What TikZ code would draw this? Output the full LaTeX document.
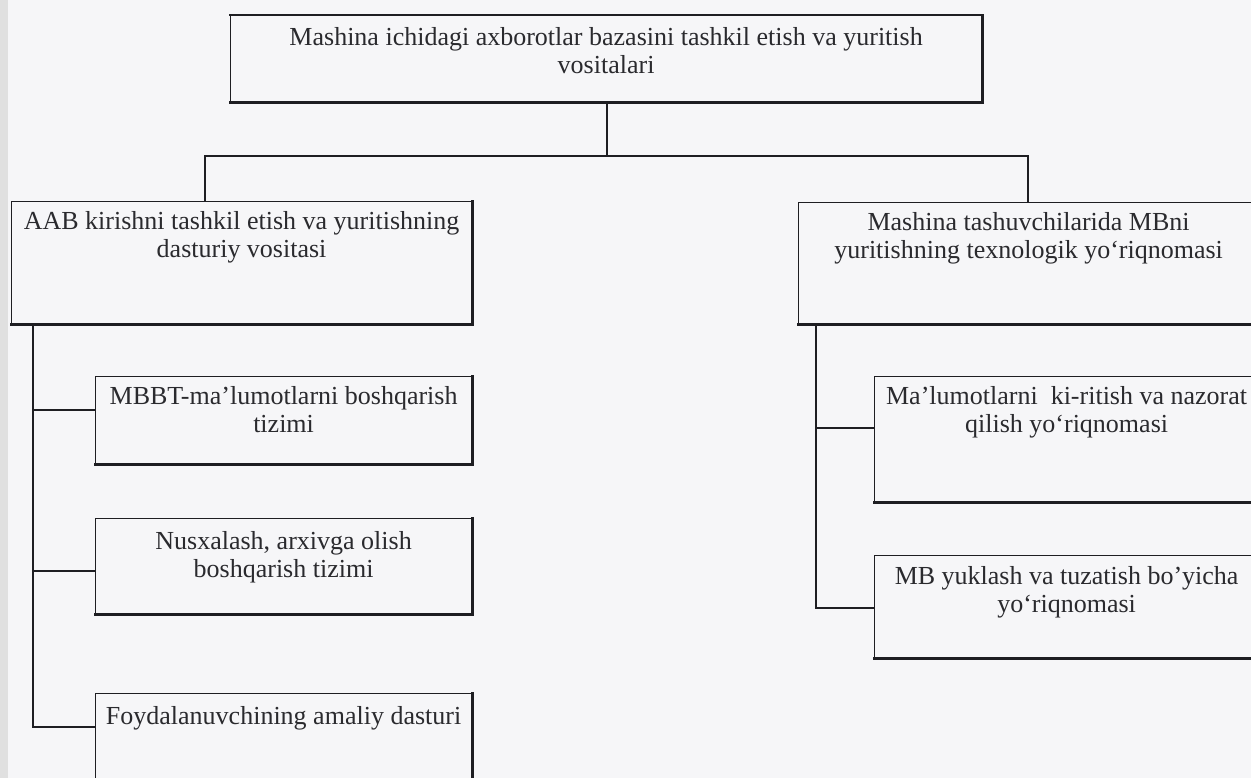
\documentclass[tikz,border=0pt]{standalone}
\usepackage{fontspec}
\setmainfont{Liberation Serif}
\definecolor{lc}{HTML}{1E1E22}
\definecolor{tc}{HTML}{2A2A2E}
\definecolor{bg}{HTML}{F6F6F8}
\begin{document}
\begin{tikzpicture}[x=1pt,y=-1pt,
  box/.style={draw=lc, line width=1.2pt, anchor=north west, inner sep=0pt},
  txt/.style={font=\fontsize{26}{28.5}\selectfont, text=tc, align=center, inner sep=0pt, anchor=north},
  conn/.style={draw=lc, line width=1.8pt},
  heavy/.style={draw=lc, line width=2.8pt, line cap=rect}]
\useasboundingbox (0,0) rectangle (1251,778);
\clip (0,0) rectangle (1251,778);
\fill[bg] (0,0) rectangle (1251,778);
\fill[black!12] (0,0) rectangle (8,778);

% boxes
\node[box, minimum width=751pt, minimum height=86pt] (top) at (230,15) {};
\node[box, minimum width=460pt, minimum height=122pt] (aab) at (11,201) {};
\node[box, minimum width=460pt, minimum height=121pt] (mt) at (798,202) {};
\node[box, minimum width=376pt, minimum height=87pt] (mbbt) at (95,376) {};
\node[box, minimum width=376pt, minimum height=95pt] (nusx) at (95,518) {};
\node[box, minimum width=376pt, minimum height=120pt] (foyd) at (95,693) {};
\node[box, minimum width=384pt, minimum height=125pt] (malum) at (874,376) {};
\node[box, minimum width=384pt, minimum height=102pt] (mby) at (874,555) {};

% heavy bottom / right edges
\draw[heavy] (top.north west) -- (top.north east);
\foreach \n in {top,aab,mt,mbbt,nusx,foyd,malum,mby}
  \draw[heavy] (\n.south west) -- (\n.south east) -- (\n.north east);

% texts
\node[txt] (ttop) at ([yshift=-12pt]top.north) {Mashina ichidagi axborotlar bazasini tashkil etish va yuritish\\vositalari};
\node[txt] (taab) at ([yshift=-10pt]aab.north) {AAB kirishni tashkil etish va yuritishning\\dasturiy vositasi};
\node[txt] (tmt) at ([yshift=-10pt]mt.north) {Mashina tashuvchilarida MBni\\yuritishning texnologik yo`riqnomasi};
\node[txt] (tmbbt) at ([yshift=-10pt]mbbt.north) {MBBT-ma'lumotlarni boshqarish\\tizimi};
\node[txt] (tnusx) at ([yshift=-13pt]nusx.north) {Nusxalash, arxivga olish\\boshqarish tizimi};
\node[txt] (tfoyd) at ([yshift=-13pt]foyd.north) {Foydalanuvchining amaliy dasturi};
\node[txt] (tmalum) at ([yshift=-10pt]malum.north) {Ma'lumotlarni\ \ ki-ritish va nazorat\\qilish yo`riqnomasi};
\node[txt] (tmby) at ([yshift=-11pt]mby.north) {MB yuklash va tuzatish bo’yicha\\yo`riqnomasi};

% connectors
\coordinate (bus) at (607,156);
\draw[conn] (top.south -| bus) -- (bus);
\draw[conn] (bus) -| ([xshift=194pt]aab.north west);
\draw[conn] (bus) -| ([xshift=230pt]mt.north west);

\coordinate (ls) at ([xshift=22pt]aab.south west);
\draw[conn] (ls) |- (ls |- 0,727) -- (0,727 -| foyd.west);
\draw[conn] (ls |- 0,410) -- (0,410 -| mbbt.west);
\draw[conn] (ls |- 0,571) -- (0,571 -| nusx.west);

\coordinate (rs) at ([xshift=18pt]mt.south west);
\draw[conn] (rs) |- (rs |- 0,608) -- (0,608 -| mby.west);
\draw[conn] (rs |- 0,428) -- (0,428 -| malum.west);
\end{tikzpicture}
\end{document}
